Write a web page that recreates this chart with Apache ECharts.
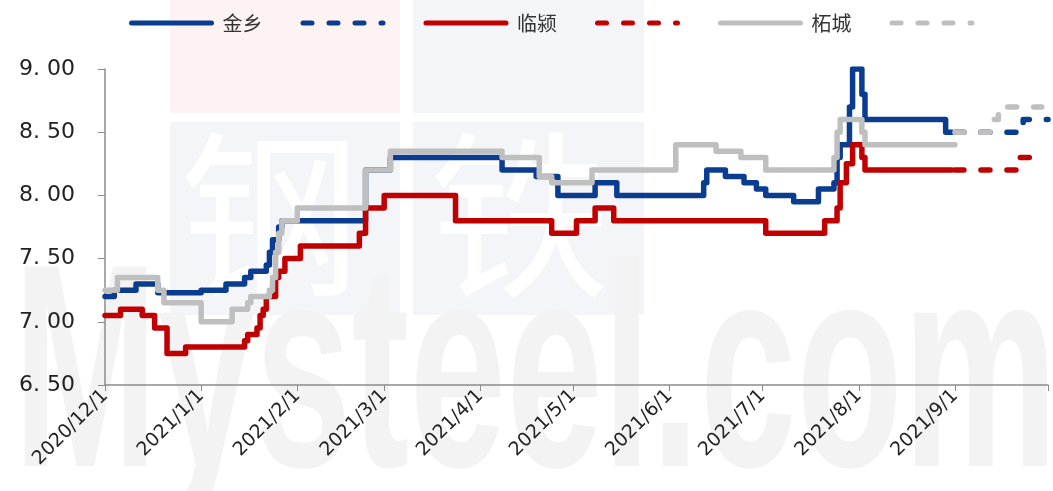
<!DOCTYPE html>
<html>
<head>
<meta charset="utf-8">
<script src="https://cdn.jsdelivr.net/npm/echarts@6/dist/echarts.min.js"></script>
<style>
  html, body { margin: 0; padding: 0; background: #fff; }
  #chart { width: 1053px; height: 491px; }
</style>
</head>
<body>
<div id="chart"></div>
<script>
// 金乡
const jxDates = ['2020-12-01','2020-12-04','2020-12-11','2020-12-18','2021-01-01','2021-01-09','2021-01-15','2021-01-17','2021-01-22','2021-01-23','2021-01-24','2021-01-26','2021-01-27','2021-02-23','2021-03-03','2021-04-08','2021-04-19','2021-04-26','2021-05-08','2021-05-15','2021-06-12','2021-06-13','2021-06-19','2021-06-25','2021-06-29','2021-07-02','2021-07-11','2021-07-19','2021-07-24','2021-07-25','2021-07-26','2021-07-29','2021-07-30','2021-08-02','2021-08-03','2021-08-29','2021-08-31'];
const jxVals = [7.20,7.25,7.30,7.23,7.25,7.30,7.35,7.40,7.45,7.55,7.65,7.75,7.80,8.20,8.30,8.20,8.15,8.00,8.10,8.00,8.10,8.20,8.15,8.10,8.05,8.00,7.95,8.05,8.10,8.30,8.40,8.70,9.00,8.80,8.60,8.50,8.50];
const jxFcDates = ['2021-09-01','2021-09-23','2021-10-01'];
const jxFcVals = [8.50,8.60,8.60];

// 临颍
const lyDates = ['2020-12-01','2020-12-06','2020-12-13','2020-12-17','2020-12-21','2020-12-27','2021-01-15','2021-01-16','2021-01-19','2021-01-20','2021-01-21','2021-01-22','2021-01-25','2021-01-26','2021-01-28','2021-02-02','2021-02-21','2021-02-23','2021-03-01','2021-03-24','2021-04-24','2021-05-02','2021-05-08','2021-05-14','2021-07-02','2021-07-21','2021-07-25','2021-07-26','2021-07-28','2021-07-30','2021-08-02','2021-08-03','2021-08-31'];
const lyVals = [7.05,7.10,7.05,6.95,6.75,6.80,6.85,6.90,6.95,7.05,7.10,7.20,7.35,7.40,7.50,7.60,7.70,7.90,8.00,7.80,7.70,7.80,7.90,7.80,7.70,7.80,7.90,8.10,8.25,8.40,8.30,8.20,8.20];
const lyFcDates = ['2021-09-01','2021-09-22','2021-09-29'];
const lyFcVals = [8.20,8.30,8.30];

// 柘城
const zcDates = ['2020-12-01','2020-12-05','2020-12-18','2020-12-20','2021-01-01','2021-01-11','2021-01-16','2021-01-17','2021-01-23','2021-01-24','2021-01-25','2021-01-26','2021-01-27','2021-02-01','2021-02-23','2021-03-03','2021-04-08','2021-04-20','2021-04-24','2021-05-07','2021-06-03','2021-06-16','2021-06-24','2021-07-02','2021-07-24','2021-07-25','2021-07-26','2021-08-02','2021-08-03','2021-09-01'];
const zcVals = [7.25,7.35,7.25,7.15,7.00,7.10,7.15,7.20,7.25,7.35,7.55,7.70,7.80,7.90,8.20,8.35,8.30,8.15,8.10,8.20,8.40,8.35,8.30,8.20,8.30,8.50,8.60,8.50,8.40,8.40];
const zcFcDates = ['2021-09-01','2021-09-13','2021-09-15','2021-09-29'];
const zcFcVals = [8.50,8.60,8.70,8.70];

const pair = (d, v) => d.map((x, i) => [x, v[i]]);

const BLUE = '#0a3d8f', RED = '#c00000', GRAY = '#bfbfbf';

function line(name, color, data, dashed) {
    return {
        name: name,
        type: 'line',
        step: 'end',
        symbol: 'none',
        data: data,
        lineStyle: {
            color: color,
            width: 5.5,
            type: dashed ? [9, 17] : 'solid',
            cap: 'round',
            join: 'round'
        },
        itemStyle: { color: color }
    };
}

let myChart = echarts.init(document.getElementById('chart'));
const option = {
    animation: false,
    backgroundColor: '#fff',
    // 水印
    graphic: [
        { type: 'rect', silent: true, z: -10, shape: { x: 170, y: 0, width: 230, height: 113 }, style: { fill: '#fdf3f3' } },
        { type: 'rect', silent: true, z: -10, shape: { x: 413, y: 0, width: 231, height: 113 }, style: { fill: '#f4f5f9' } },
        { type: 'rect', silent: true, z: -10, shape: { x: 170, y: 122, width: 230, height: 193 }, style: { fill: '#f4f5f9' } },
        { type: 'rect', silent: true, z: -10, shape: { x: 413, y: 122, width: 231, height: 193 }, style: { fill: '#f4f5f9' } },
        { type: 'text', silent: true, z: -9, x: 180, y: 125, style: { text: '钢', fill: '#ffffff', font: '180px "Noto Sans CJK SC"' } },
        { type: 'text', silent: true, z: -9, x: 430, y: 125, style: { text: '铁', fill: '#ffffff', font: '180px "Noto Sans CJK SC"' } },
        { type: 'text', silent: true, z: -8, x: 13, y: 531, scaleX: 0.6, style: { text: 'Mysteel.com', fill: '#f3f3f3', verticalAlign: 'bottom', align: 'left', font: 'bold 290px "Liberation Sans", Arial' } }
    ],
    legend: {
        top: 8,
        left: 124,
        itemWidth: 80,
        itemHeight: 14,
        itemGap: 38,
        lineStyle: { width: 5 },
        itemStyle: { opacity: 0 },
        formatter: n => n.indexOf('预测') >= 0 ? '' : n,
        textStyle: { fontSize: 20, color: '#333', fontFamily: '"Noto Sans CJK SC"', padding: [0, 0, 0, 6] },
        data: ['金乡', '金乡预测', '临颍', '临颍预测', '柘城', '柘城预测']
    },
    grid: { left: 105, right: 5, top: 69, bottom: 106, outerBoundsMode: 'none' },
    xAxis: {
        type: 'time',
        min: '2020-12-01',
        max: '2021-10-01',
        splitNumber: 10,
        minInterval: 28 * 86400000,
        maxInterval: 31 * 86400000,
        axisLine: { lineStyle: { color: '#8c8c8c', width: 1.5 } },
        axisTick: { show: true, length: 6, lineStyle: { color: '#8c8c8c' } },
        splitLine: { show: false },
        axisLabel: {
            rotate: 45,
            fontSize: 19,
            color: '#222',
            fontFamily: '"DejaVu Sans"',
            hideOverlap: false,
            formatter: v => {
                const d = new Date(v);
                if (d.getFullYear() === 2021 && d.getMonth() === 9) return '';
                return d.getFullYear() + '/' + (d.getMonth() + 1) + '/' + d.getDate();
            }
        }
    },
    yAxis: {
        type: 'value',
        min: 6.5,
        max: 9,
        interval: 0.5,
        axisLine: { show: true, lineStyle: { color: '#8c8c8c', width: 1.5 } },
        axisTick: { show: true, length: 7, lineStyle: { color: '#8c8c8c' } },
        splitLine: { show: false },
        axisLabel: {
            fontSize: 22,
            color: '#222',
            margin: 30,
            fontFamily: '"DejaVu Sans"',
            formatter: v => v.toFixed(2).replace('.', '. ')
        }
    },
    series: [
        line('金乡', BLUE, pair(jxDates, jxVals), false),
        line('金乡预测', BLUE, pair(jxFcDates, jxFcVals), true),
        line('临颍', RED, pair(lyDates, lyVals), false),
        line('临颍预测', RED, pair(lyFcDates, lyFcVals), true),
        line('柘城', GRAY, pair(zcDates, zcVals), false),
        line('柘城预测', GRAY, pair(zcFcDates, zcFcVals), true)
    ]
};
myChart.setOption(option);
</script>
</body>
</html>
